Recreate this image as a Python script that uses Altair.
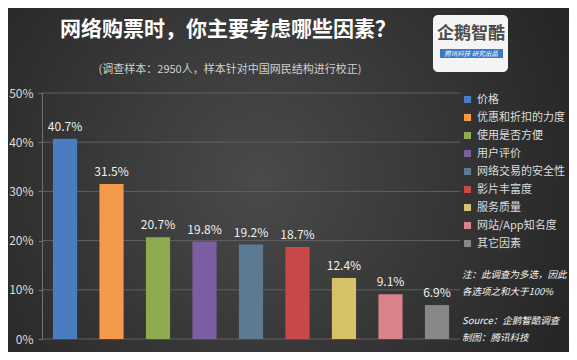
import altair as alt
import pandas as pd

categories = ["价格", "优惠和折扣的力度", "使用是否方便", "用户评价", "网络交易的安全性",
              "影片丰富度", "服务质量", "网站/App知名度", "其它因素"]
values = [40.7, 31.5, 20.7, 19.8, 19.2, 18.7, 12.4, 9.1, 6.9]
colors = ["#4a7dbf", "#f59a4a", "#8eab4f", "#7c5ea3", "#5d7a93",
          "#c9494a", "#d7c169", "#d8828a", "#888888"]
ticks = [0, 10, 20, 30, 40, 50]
title = "网络购票时，你主要考虑哪些因素？"
subtitle = "(调查样本：2950人，样本针对中国网民结构进行校正)"
notes = ["注：此调查为多选，因此", "各选项之和大于100%"]
source = ["Source：企鹅智酷调查", "制图：腾讯科技"]
logo_main = "企鹅智酷"
logo_sub = "腾讯科技  研究出品"

PX, PY = 42, 93          # plot origin on page
W, H = 418, 246
FONT = "Noto Sans CJK SC"

df = pd.DataFrame({"cat": categories, "val": values,
                   "label": [f"{v}%" for v in values]})
one = pd.DataFrame({"a": [0]})

yscale = alt.Scale(domain=[0, 50])
yaxis = alt.Axis(values=ticks, labelExpr="datum.value + '%'", grid=False,
                 domainColor="#707070", tickColor="#707070", tickSize=4,
                 labelColor="#dddddd", labelFontSize=12, labelFont=FONT,
                 labelPadding=5, zindex=1, title=None)
xenc = alt.X("cat:N", sort=categories, axis=None,
             scale=alt.Scale(paddingInner=0.48, paddingOuter=0.235))

bg = alt.Chart(one).mark_rect(
    color=alt.Gradient(gradient="radial",
                       stops=[alt.GradientStop(offset=0, color="#4a4a4a"),
                              alt.GradientStop(offset=1, color="#1c1c1c")],
                       x1=0.45, y1=0.5, r1=0, x2=0.45, y2=0.5, r2=0.75)
).encode(x=alt.value(-PX), x2=alt.value(577 - PX), y=alt.value(-PY), y2=alt.value(360 - PY))

grid = alt.Chart(pd.DataFrame({"t": ticks})).mark_rule(color="#606060", strokeWidth=1).encode(
    y=alt.Y("t:Q", scale=yscale, axis=yaxis))

bars = alt.Chart(df).mark_bar().encode(
    x=xenc,
    y=alt.Y("val:Q", scale=yscale, axis=yaxis),
    color=alt.Color("cat:N", sort=categories,
                    scale=alt.Scale(domain=categories, range=colors),
                    legend=alt.Legend(orient="none", legendX=420, legendY=1, title=None,
                                      symbolType="square", symbolSize=50,
                                      symbolStrokeWidth=0, labelColor="#dddddd",
                                      labelFontSize=11, labelFont=FONT,
                                      rowPadding=6, padding=0, labelOffset=4)),
)

labels = alt.Chart(df).mark_text(baseline="bottom", dy=-5, color="#f0f0f0",
                                 fontSize=12, font=FONT).encode(
    x=xenc, y=alt.Y("val:Q", scale=yscale, axis=yaxis), text="label:N")


def txt(s, x, y, **kw):
    return alt.Chart(one).mark_text(font=FONT, **kw).encode(
        x=alt.value(x - PX), y=alt.value(y - PY), text=alt.value(s))


layers = [bg, grid, bars, labels,
          txt(title, 228, 30, fontSize=21, fontWeight="bold", color="#ffffff",
              align="center", baseline="middle"),
          txt(subtitle, 230, 70, fontSize=11, color="#d0d0d0",
              align="center", baseline="middle")]

# logo
layers.append(alt.Chart(one).mark_rect(color="#f4f4f4", cornerRadius=5).encode(
    x=alt.value(433 - PX), x2=alt.value(508 - PX), y=alt.value(15 - PY), y2=alt.value(72 - PY)))
layers.append(alt.Chart(one).mark_rect(color="#3b78c8").encode(
    x=alt.value(440 - PX), x2=alt.value(503 - PX), y=alt.value(49 - PY), y2=alt.value(58 - PY)))
layers.append(txt(logo_main, 471, 34, fontSize=17, fontWeight="bold", color="#4a4a4a",
                  align="center", baseline="middle"))
layers.append(txt(logo_sub, 471, 53.5, fontSize=6.5, color="#ffffff",
                  align="center", baseline="middle", fontStyle="italic"))

for s, y in zip(notes + source, [275, 292, 321, 338]):
    layers.append(txt(s, 462, y, fontSize=9.5, color="#f4f4f4", align="left",
                      baseline="middle", fontStyle="italic"))

chart = alt.layer(*layers).properties(
    width=W, height=H,
    padding={"left": 34, "top": 85, "right": 109, "bottom": 13},
    autosize=alt.AutoSizeParams(type="none"),
    background="#2b2b2b",
).configure_view(stroke=None)

chart.save("out.html", embed_options={"renderer": "svg", "actions": False})
